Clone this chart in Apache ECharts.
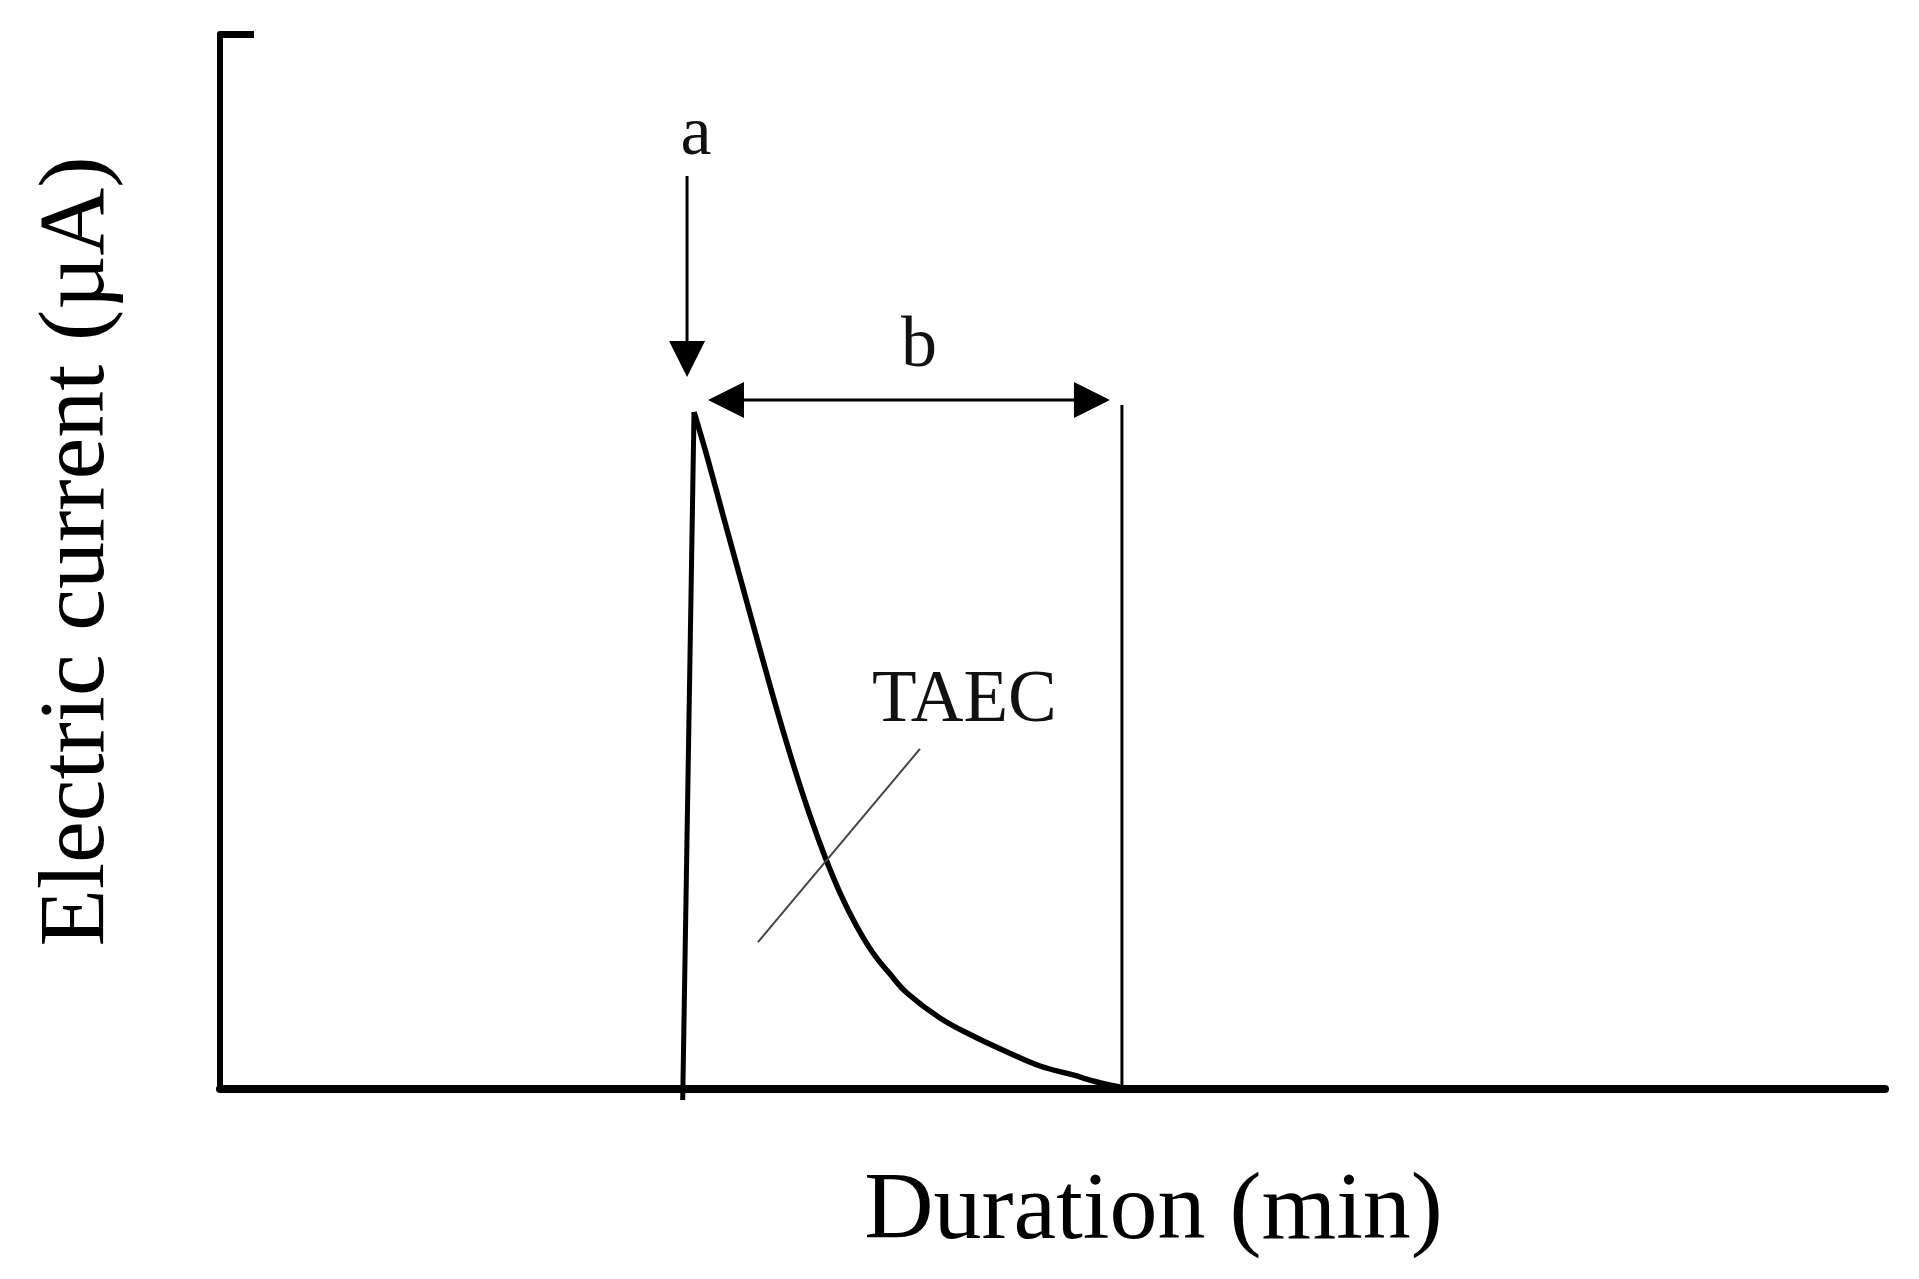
<!DOCTYPE html>
<html>
<head>
<meta charset="utf-8">
<style>
  html, body { margin: 0; padding: 0; background: #ffffff; }
  #chart { width: 1919px; height: 1279px; }
</style>
<script src="https://cdn.jsdelivr.net/npm/echarts@6/dist/echarts.min.js"></script>
</head>
<body>
<div id="chart"></div>
<script>
// ---------- data (arbitrary units; 0..100 on both axes) ----------
const axisRangeX = [0, 100];
const axisRangeY = [0, 100];

// rising edge of the current pulse
const riseX = [27.79, 28.47];
const riseY = [-1.04, 64.17];

// decay of the current (TAEC area)
const decayX = [28.47, 29.26, 30.24, 31.23, 32.37, 33.45, 34.44, 35.44, 36.34, 37.27, 38.23, 39.22, 40.24, 41.26, 43.24, 45.23, 47.27, 49.25, 51.23, 52.67, 54.05];
const decayY = [64.17, 59.91, 54.22, 48.53, 41.99, 35.92, 30.71, 25.88, 21.99, 18.48, 15.45, 12.89, 10.90, 9.10, 6.73, 5.02, 3.51, 2.18, 1.33, 0.66, 0.19];

// end-of-measurement marker (vertical line)
const endMarkerX = 54.17;
const endMarkerY = [0, 64.83];

// arrow "a" (injection point): x, from y, to y
const arrowAX = 28.05;
const arrowAY = [86.54, 67.49];

// arrow "b" (duration): y, from x, to x
const arrowBY = 65.31;
const arrowBX = [29.31, 53.45];

// pointer line for TAEC
const taecLineX = [32.31, 42.04];
const taecLineY = [13.93, 32.23];

// annotation labels (anchor = baseline)
const labelTexts = ['a', 'b', 'TAEC'];
const labelX = [28.59, 41.98, 39.16];
const labelY = [88.53, 68.44, 34.79];

const xAxisName = 'Duration (min)';
const yAxisName = 'Electric current (µA)';

// ---------- chart ----------
const FONT = "'Liberation Serif', 'DejaVu Serif', serif";
const chart = echarts.init(document.getElementById('chart'), null, { renderer: 'canvas' });

function zip(xs, ys) { return xs.map((x, i) => [x, ys[i]]); }

function arrowHead(tip, dir, len, half) {
  const bx = tip[0] - dir[0] * len, by = tip[1] - dir[1] * len;
  const nx = -dir[1], ny = dir[0];
  return [[tip[0], tip[1]], [bx + nx * half, by + ny * half], [bx - nx * half, by - ny * half]];
}

const option = {
  backgroundColor: '#ffffff',
  animation: false,
  grid: { left: 220, right: 34, top: 34, bottom: 190, containLabel: false, outerBoundsMode: 'none' },
  xAxis: {
    type: 'value',
    min: axisRangeX[0], max: axisRangeX[1], interval: 100,
    name: xAxisName,
    nameLocation: 'middle',
    nameGap: 76,
    nameTextStyle: { fontFamily: FONT, fontSize: 96, color: '#000', padding: [0, 0, 0, 202] },
    axisLine: { show: true, onZero: false, lineStyle: { color: '#000', width: 8 } },
    axisTick: { show: false },
    axisLabel: { show: false },
    splitLine: { show: false }
  },
  yAxis: {
    type: 'value',
    min: axisRangeY[0], max: axisRangeY[1], interval: 100,
    name: yAxisName,
    nameLocation: 'middle',
    nameGap: 95,
    nameTextStyle: { fontFamily: FONT, fontSize: 94, color: '#000', padding: [0, 0, 0, 20] },
    axisLine: { show: true, lineStyle: { color: '#000', width: 6 } },
    axisTick: { show: true, inside: true, length: 34, lineStyle: { color: '#000', width: 7 } },
    axisLabel: { show: false },
    splitLine: { show: false }
  },
  series: [
    {
      name: 'rise', type: 'line', data: zip(riseX, riseY),
      symbol: 'none', clip: false, z: 5,
      lineStyle: { color: '#000', width: 5 }
    },
    {
      name: 'decay', type: 'line', data: zip(decayX, decayY),
      symbol: 'none', clip: false, smooth: 0.4, z: 5,
      lineStyle: { color: '#000', width: 5.5 }
    },
    {
      name: 'annotations', type: 'custom', clip: false, z: 6,
      data: [[0, 0]],
      renderItem: function (params, api) {
        const children = [];
        const e0 = api.coord([endMarkerX, endMarkerY[0]]);
        const e1 = api.coord([endMarkerX, endMarkerY[1]]);
        children.push({ type: 'line', shape: { x1: e0[0], y1: e0[1], x2: e1[0], y2: e1[1] },
          style: { stroke: '#000', lineWidth: 3 } });
        const a0 = api.coord([arrowAX, arrowAY[0]]);
        const a1 = api.coord([arrowAX, arrowAY[1]]);
        const HL = 36, HH = 18;
        children.push({ type: 'line', shape: { x1: a0[0], y1: a0[1], x2: a1[0], y2: a1[1] - HL + 2 },
          style: { stroke: '#000', lineWidth: 3 } });
        children.push({ type: 'polygon', shape: { points: arrowHead(a1, [0, 1], HL, HH) },
          style: { fill: '#000' } });
        const b0 = api.coord([arrowBX[0], arrowBY]);
        const b1 = api.coord([arrowBX[1], arrowBY]);
        children.push({ type: 'line', shape: { x1: b0[0] + HL - 2, y1: b0[1], x2: b1[0] - HL + 2, y2: b1[1] },
          style: { stroke: '#000', lineWidth: 3 } });
        children.push({ type: 'polygon', shape: { points: arrowHead(b0, [-1, 0], HL, HH) }, style: { fill: '#000' } });
        children.push({ type: 'polygon', shape: { points: arrowHead(b1, [1, 0], HL, HH) }, style: { fill: '#000' } });
        const t0 = api.coord([taecLineX[0], taecLineY[0]]);
        const t1 = api.coord([taecLineX[1], taecLineY[1]]);
        children.push({ type: 'line', shape: { x1: t0[0], y1: t0[1], x2: t1[0], y2: t1[1] },
          style: { stroke: '#444', lineWidth: 2 } });
        const aligns = ['center', 'center', 'left'];
        const sizes = [70, 72, 73];
        labelTexts.forEach(function (txt, i) {
          const p = api.coord([labelX[i], labelY[i]]);
          children.push({ type: 'text', x: p[0], y: p[1] - sizes[i] * 0.77,
            style: { text: txt, fill: '#111', font: sizes[i] + 'px ' + FONT,
              align: aligns[i], verticalAlign: 'top' } });
        });
        return { type: 'group', children: children };
      }
    }
  ]
};
chart.setOption(option);
</script>
</body>
</html>
